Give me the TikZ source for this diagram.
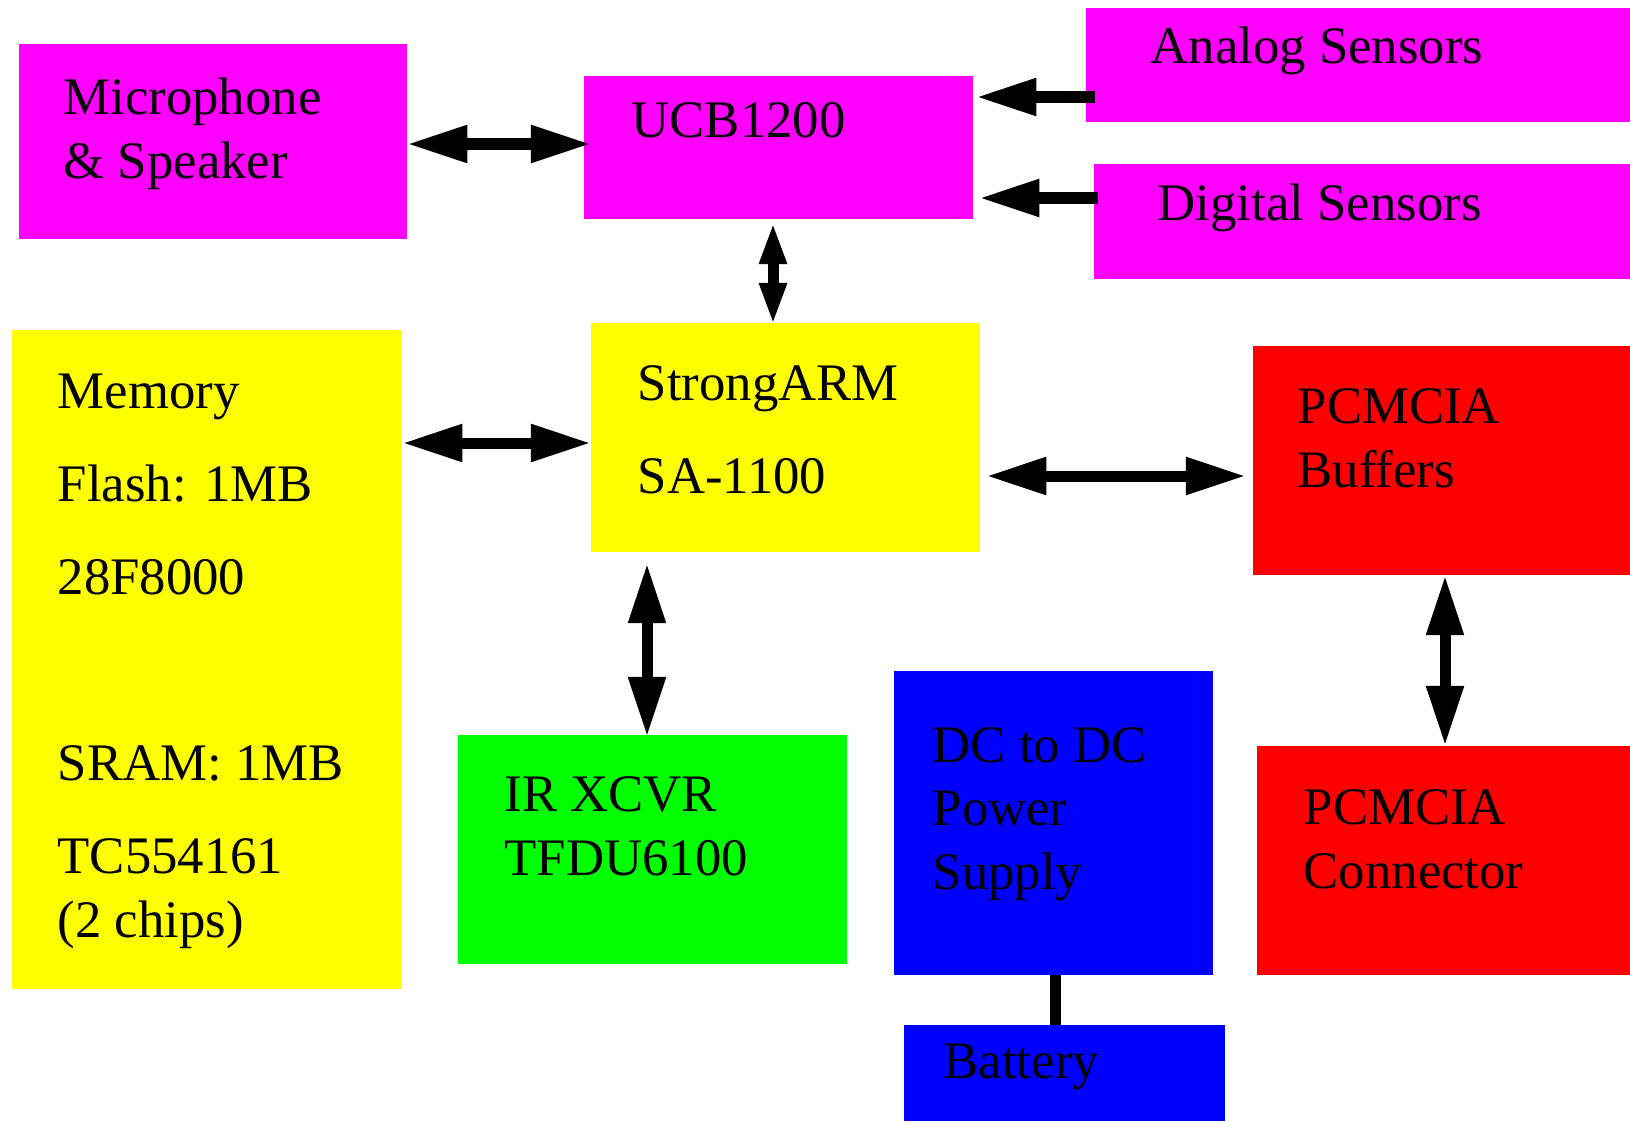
\documentclass[tikz,border=0pt]{standalone}
\usepackage{fontspec}
\setmainfont{Liberation Serif}
\usetikzlibrary{arrows.meta}

\definecolor{pink}{RGB}{255,0,255}
\definecolor{yel}{RGB}{255,255,0}
\definecolor{grn}{RGB}{0,255,0}
\definecolor{blu}{RGB}{0,0,255}
\definecolor{rd}{RGB}{255,0,0}

\tikzset{
  blk/.style={inner sep=0pt, outer sep=0pt, anchor=north west},
  txt/.style={inner sep=0pt, anchor=base west, align=left, font=\fontsize{15}{18}\selectfont},
  bigtip/.tip={Triangle[length=6mm,width=3.5mm]},
  smalltip/.tip={Triangle[length=4.2mm,width=2.5mm]},
  bus/.style={line width=1.1mm, bigtip-bigtip},
  feed/.style={line width=1.1mm, -bigtip},
  shortbus/.style={line width=1.1mm, smalltip-smalltip}
}

\begin{document}
\begin{tikzpicture}[x=0.01cm, y=-0.01cm]
            \useasboundingbox (0,0) rectangle (1630,1121);

            % boxes
            \node[blk, fill=pink, minimum width=3.88cm, minimum height=1.95cm] (mic) at (19,44) {};
            \node[blk, fill=pink, minimum width=3.89cm, minimum height=1.43cm] (ucb) at (584,76) {};
            \node[blk, fill=pink, minimum width=5.44cm, minimum height=1.14cm] (analog) at (1086,8) {};
            \node[blk, fill=pink, minimum width=5.36cm, minimum height=1.15cm] (digital) at (1094,164) {};
            \node[blk, fill=yel, minimum width=3.90cm, minimum height=6.59cm] (mem) at (12,330) {};
            \node[blk, fill=yel, minimum width=3.89cm, minimum height=2.29cm] (arm) at (591,323) {};
            \node[blk, fill=rd, minimum width=3.77cm, minimum height=2.29cm] (buf) at (1253,346) {};
            \node[blk, fill=grn, minimum width=3.89cm, minimum height=2.29cm] (ir) at (458,735) {};
            \node[blk, fill=blu, minimum width=3.19cm, minimum height=3.04cm] (dcdc) at (894,671) {};
            \node[blk, fill=rd, minimum width=3.73cm, minimum height=2.29cm] (conn) at (1257,746) {};
            \node[blk, fill=blu, minimum width=3.21cm, minimum height=0.96cm] (bat) at (904,1025) {};

            % labels (placed by the baseline of their last line)
            \node[txt] (micT) at (63,178) {Microphone\\\& Speaker};
            \node[txt] (ucbT) at (631,137) {UCB1200};
            \node[txt] (anaT) at (1150,63) {Analog Sensors};
            \node[txt] (digT) at (1157,220) {Digital Sensors};
            \node[txt] (memT) at (57,937) {Memory\\[8.4pt]Flash: 1MB\\[8.4pt]28F8000\\[35pt]SRAM: 1MB\\[8.4pt]TC554161\\(2 chips)};
            \node[txt] (armT) at (637,493) {StrongARM\\[8.4pt]SA-1100};
            \node[txt] (bufT) at (1297,487) {PCMCIA\\Buffers};
            \node[txt] (irT) at (504,875) {IR XCVR\\TFDU6100};
            \node[txt] (dcT) at (932,889) {DC to DC\\Power\\Supply};
            \node[txt] (connT) at (1303,888) {PCMCIA\\Connector};
            \node[txt] (batT) at (943,1078) {Battery};

            % links
            \draw[bus] (mic.east |- 0,144) -- ([xshift=0.07cm]ucb.west |- 0,144);
            \draw[feed] ([xshift=0.09cm]analog.west |- 0,97) -- ([xshift=0.03cm]ucb.east |- 0,97);
            \draw[feed] ([xshift=0.04cm]digital.west |- 0,198) -- ([xshift=0.06cm]ucb.east |- 0,198);
            \draw[shortbus] ([yshift=-0.03cm]ucb.south -| 773,0) -- ([yshift=-0.02cm]arm.north -| 773,0);
            \draw[bus] (mem.east |- 0,443) -- (arm.west |- 0,443);
            \draw[bus] ([xshift=0.06cm]arm.east |- 0,476) -- ([xshift=-0.07cm]buf.west |- 0,476);
            \draw[bus] ([yshift=-0.11cm]arm.south -| 647,0) -- ([yshift=-0.02cm]ir.north -| 647,0);
            \draw[bus] (buf.south -| 1445,0) -- (conn.north -| 1445,0);
            \draw[line width=1.1mm] (dcdc.south -| 1055,0) -- (bat.north -| 1055,0);
        \end{tikzpicture}
\end{document}
